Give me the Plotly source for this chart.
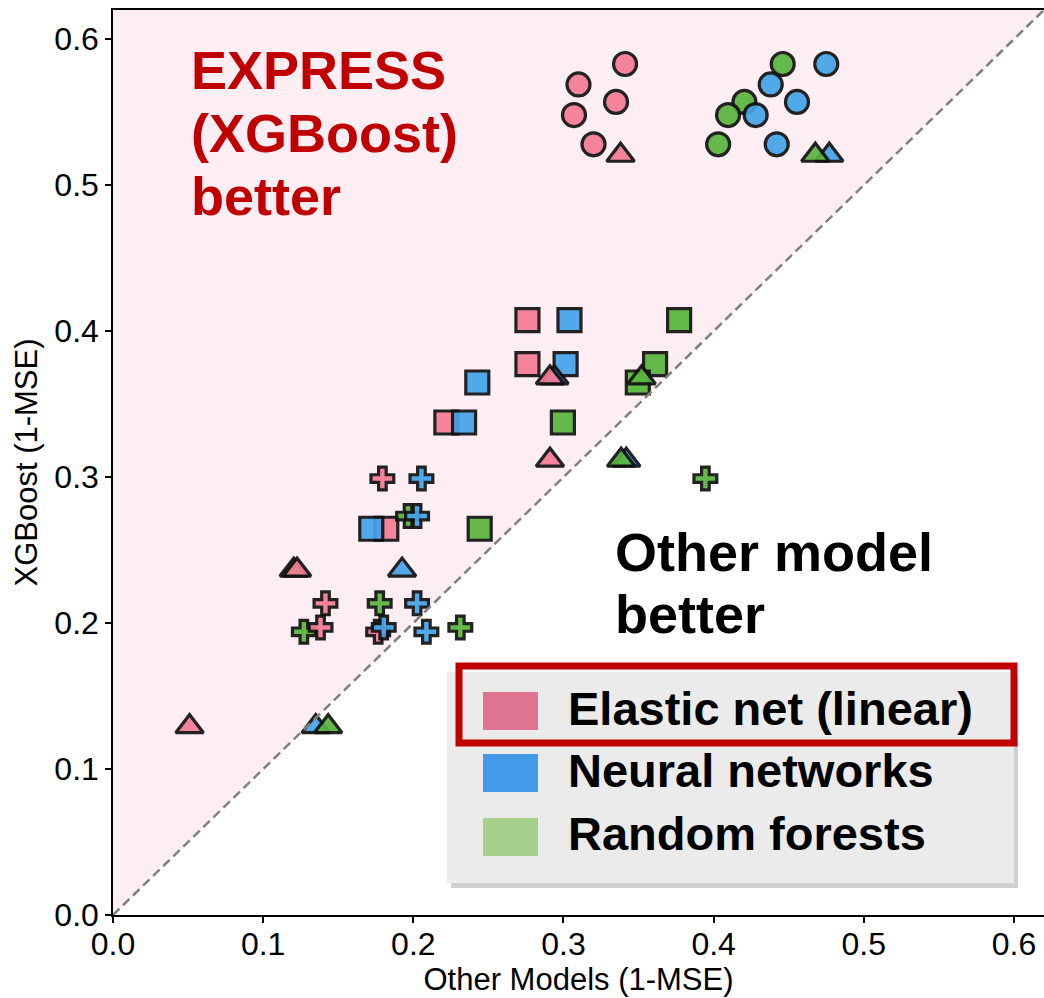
import plotly.graph_objects as go

# ---------------- data ----------------
models = ["Elastic net (linear)", "Neural networks", "Random forests"]
marker_colors = ["#f47a94", "#43a4ea", "#59b43c"]
legend_colors = ["#e07593", "#4499e8", "#a8d08d"]

# XGBoost (1-MSE) per dataset group (shared y values)
xgb_circle = [0.583, 0.569, 0.557, 0.548, 0.528]
xgb_square = [0.4075, 0.3774, 0.3648, 0.3374, 0.2646]
xgb_triangle = [0.5205, 0.368, 0.3116, 0.2363, 0.129]
xgb_cross = [0.299, 0.2733, 0.2135, 0.197, 0.194]

# Other model (1-MSE)
enet_circle = [0.341, 0.310, 0.335, 0.307, 0.320]
enet_square = [0.276, 0.276, None, 0.222, 0.182]
enet_triangle = [0.338, 0.291, 0.291, 0.1226, 0.051]
enet_cross = [0.1794, None, 0.1415, 0.1382, 0.1766]

nn_circle = [0.475, 0.438, 0.4555, 0.428, 0.442]
nn_square = [0.304, 0.3014, 0.2426, 0.2338, 0.172]
nn_triangle = [0.477, 0.294, 0.3418, 0.1925, 0.135]
nn_cross = [0.2054, 0.2025, 0.2025, 0.1803, 0.2087]

rf_circle = [0.446, None, 0.4205, 0.4096, 0.403]
rf_square = [0.377, 0.361, 0.3495, 0.2996, 0.2442]
rf_triangle = [0.4677, 0.352, 0.3384, 0.1204, 0.1433]
rf_cross = [0.3945, 0.1965, 0.1776, 0.2313, 0.1271]

x_ticks = [0.0, 0.1, 0.2, 0.3, 0.4, 0.5, 0.6]
y_ticks = [0.0, 0.1, 0.2, 0.3, 0.4, 0.5, 0.6]
axis_max = 0.62

# ---------------- figure geometry ----------------
W, H = 1044, 998
ML, MR, MT, MB = 113, 0, 10, 83
PW, PH = W - ML - MR, H - MT - MB
FONT = "Liberation Sans, Arial, Helvetica, sans-serif"


def pxx(x):  # page pixel x -> paper
    return (x - ML) / PW


def pxy(y):  # page pixel y -> paper
    return (H - MB - y) / PH


fig = go.Figure()

# drawing order (per marker type) chosen to reproduce overlaps
layers = [
    ("circle", 23, xgb_circle, [(0, enet_circle), (2, rf_circle), (1, nn_circle)]),
    ("square", 23, xgb_square, [(0, enet_square), (1, nn_square), (2, rf_square)]),
    ("triangle-up", 24, xgb_triangle, [(1, nn_triangle), (2, rf_triangle), (0, enet_triangle)]),
    ("cross", 19, xgb_cross, [(2, rf_cross), (0, enet_cross), (1, nn_cross)]),
]

for symbol, size, yvals, series in layers:
    for mi, xvals in series:
        fig.add_trace(go.Scatter(
            x=xvals, y=yvals, mode="markers", name=models[mi], showlegend=False,
            marker=dict(symbol=symbol, size=size, color=marker_colors[mi], opacity=0.92,
                        line=dict(color="#111111", width=3.2)),
            cliponaxis=False,
        ))

shapes = [
    dict(type="path", xref="x", yref="y",
         path=f"M 0,0 L 0,{axis_max} L {axis_max},{axis_max} Z",
         fillcolor="#fdeef3", line=dict(width=0), layer="below"),
    dict(type="line", xref="x", yref="y", x0=0, y0=0, x1=axis_max, y1=axis_max,
         line=dict(color="#808080", width=2.5, dash="9px,5px"), layer="above"),
]

# custom legend box
shapes.append(dict(type="rect", xref="paper", yref="paper",
                   x0=pxx(451), x1=pxx(1018), y0=pxy(888), y1=pxy(677),
                   fillcolor="rgba(120,120,120,0.35)", line=dict(width=0), layer="above"))
shapes.append(dict(type="rect", xref="paper", yref="paper",
                   x0=pxx(447), x1=pxx(1014), y0=pxy(883), y1=pxy(672),
                   fillcolor="#ebebeb", line=dict(width=0), layer="above"))
sw_y = [711, 773, 837]
for i in range(3):
    shapes.append(dict(type="rect", xref="paper", yref="paper",
                       x0=pxx(483), x1=pxx(538), y0=pxy(sw_y[i] + 19), y1=pxy(sw_y[i] - 19),
                       fillcolor=legend_colors[i], line=dict(width=0), layer="above"))
shapes.append(dict(type="rect", xref="paper", yref="paper",
                   x0=pxx(459), x1=pxx(1014), y0=pxy(743), y1=pxy(666),
                   fillcolor="rgba(0,0,0,0)", line=dict(color="#c00000", width=7), layer="above"))

annotations = []
txt_y = [708, 770, 833]
for i in range(3):
    annotations.append(dict(
        x=pxx(566), y=pxy(txt_y[i]), xref="paper", yref="paper",
        text=f"<b>{models[i]}</b>", showarrow=False, xanchor="left", yanchor="middle",
        font=dict(family=FONT, size=47, color="black")))

for line, yc in zip(["EXPRESS", "(XGBoost)", "better"], [70, 133, 196]):
    annotations.append(dict(
        x=pxx(189), y=pxy(yc), xref="paper", yref="paper",
        text=f"<b>{line}</b>", showarrow=False, xanchor="left", yanchor="middle",
        font=dict(family=FONT, size=54, color="#c00000")))
for line, yc in zip(["Other model", "better"], [552, 614]):
    annotations.append(dict(
        x=pxx(613), y=pxy(yc), xref="paper", yref="paper",
        text=f"<b>{line}</b>", showarrow=False, xanchor="left", yanchor="middle",
        font=dict(family=FONT, size=54, color="black")))

axis_common = dict(
    range=[0, axis_max], showgrid=False, zeroline=False, showline=True,
    linecolor="black", linewidth=1.5, ticks="outside", ticklen=6,
    tickwidth=1.5, tickcolor="black", tickformat=".1f",
    tickfont=dict(family=FONT, size=32, color="black"),
)

fig.update_layout(
    width=W, height=H,
    margin=dict(l=ML, r=MR, t=MT, b=MB, autoexpand=False),
    paper_bgcolor="white", plot_bgcolor="white",
    shapes=shapes, annotations=annotations,
    xaxis=dict(axis_common, tickvals=x_ticks, ticklabelstandoff=-6, mirror=True,
               title=dict(text="Other Models (1-MSE)", standoff=2,
                          font=dict(family=FONT, size=31, color="black"))),
    yaxis=dict(axis_common, tickvals=y_ticks, mirror=False,
               title=dict(text="XGBoost (1-MSE)", standoff=8,
                          font=dict(family=FONT, size=31, color="black"))),
    showlegend=False,
)

fig.write_html(
    "out.html",
    config={"displayModeBar": False},
    post_script="document.body.style.margin='0';document.body.style.overflow='hidden';",
)
